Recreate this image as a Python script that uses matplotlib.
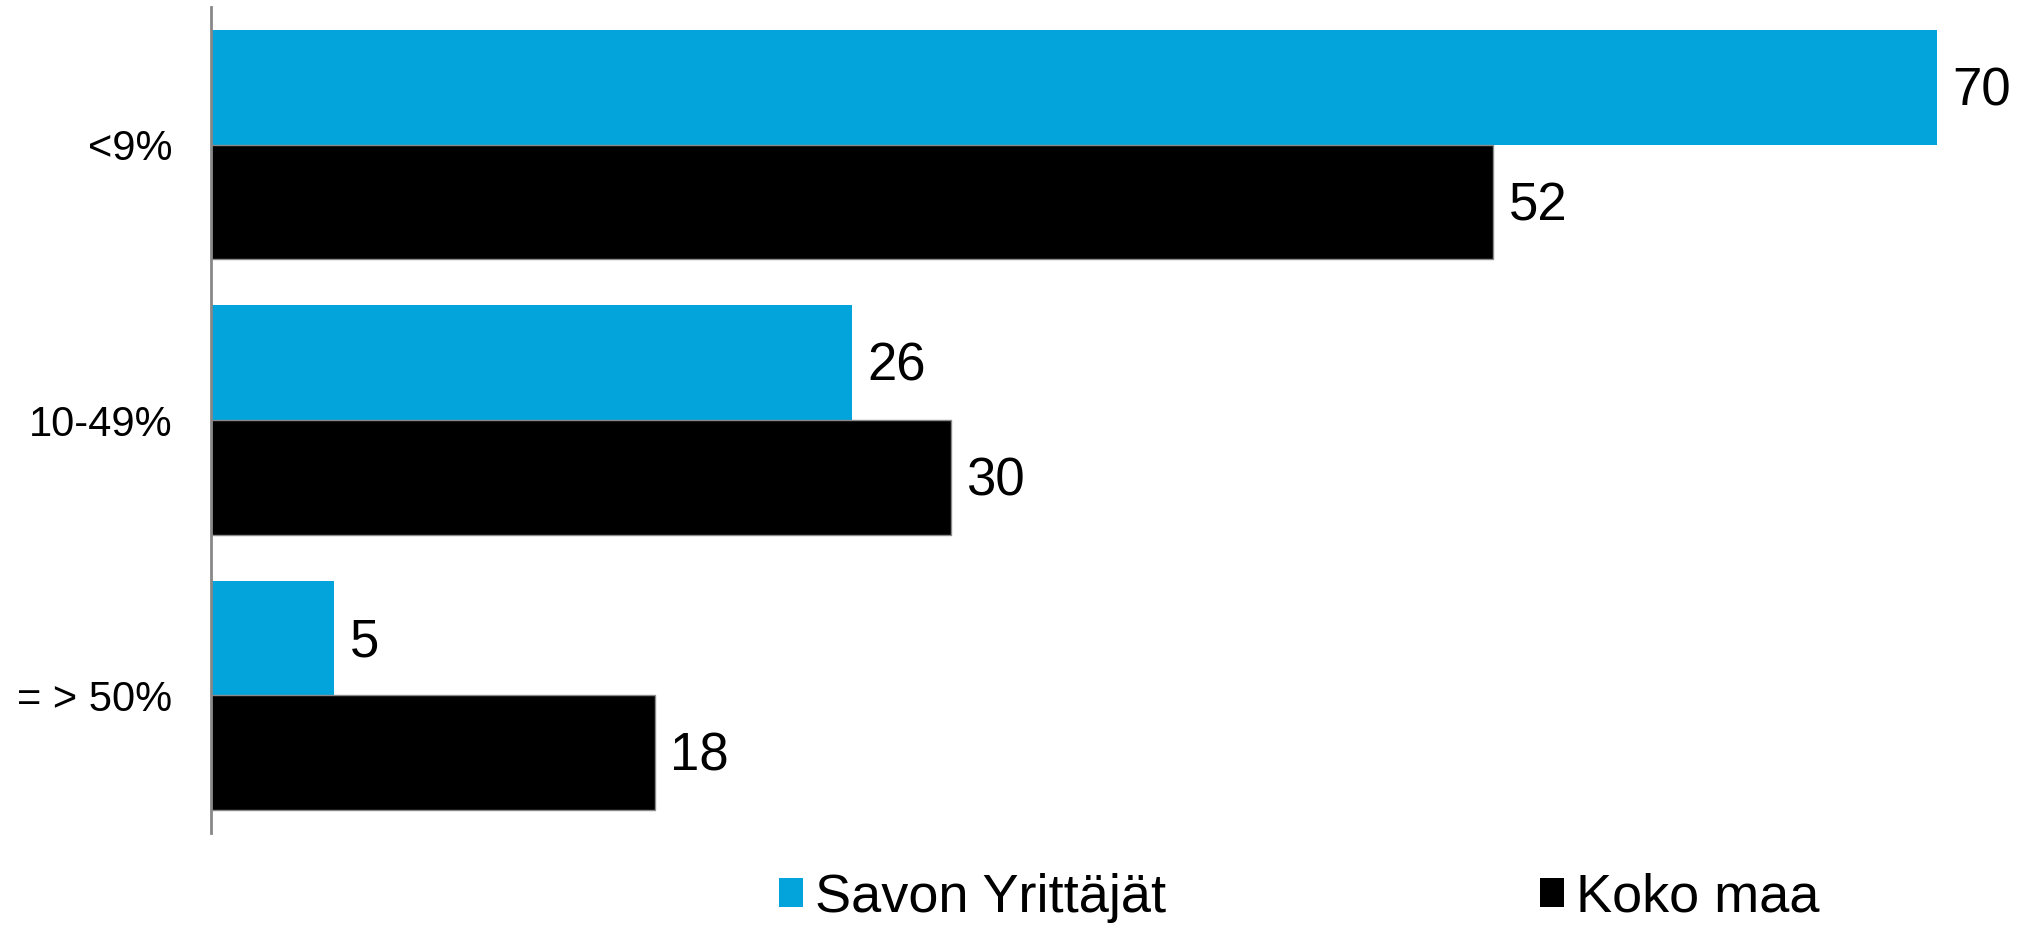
import numpy as np
import matplotlib
matplotlib.use("Agg")
import matplotlib.pyplot as plt
from matplotlib.patches import Patch

plt.rcParams['font.family'] = ['Liberation Sans', 'DejaVu Sans']

# data
categories = ['<9%', '10-49%', '= > 50%']
savon = [70, 26, 5]
koko_maa = [52, 30, 18]
series_names = ['Savon Yrittäjät', 'Koko maa']

blue = '#02A4DB'
black = '#000000'

fig = plt.figure(figsize=(20.21, 9.26), dpi=100)
ax = fig.add_axes([211 / 2021, 93 / 926, 1810 / 2021, 826 / 926])

y = np.arange(len(categories))
h = 0.417
bars1 = ax.barh(y - h / 2, savon, height=h, color=blue)
bars2 = ax.barh(y + h / 2, koko_maa, height=h, color=black,
                edgecolor='#8a8a8a', linewidth=1)

for bars, vals in [(bars1, savon), (bars2, koko_maa)]:
    for b, v in zip(bars, vals):
        ax.annotate(str(v), (b.get_width(), b.get_y() + b.get_height() / 2),
                    xytext=(11, -3), textcoords='offset points',
                    va='center', ha='left', fontsize=38)

ax.set_xlim(0, 73.4)
ax.set_ylim(2.5, -0.5)
ax.set_yticks(y)
ax.set_yticklabels(categories, fontsize=30)
ax.tick_params(axis='y', length=0, pad=28)
ax.set_xticks([])
for s in ['top', 'right', 'bottom']:
    ax.spines[s].set_visible(False)
ax.spines['left'].set_color('#888888')
ax.spines['left'].set_linewidth(2)

# legend: two separate entries
leg_y = 1 - 898 / 926
for name, col, x0 in [(series_names[0], blue, 779), (series_names[1], black, 1540)]:
    fig.legend(handles=[Patch(facecolor=col, edgecolor='none')], labels=[name],
               loc='center left', bbox_to_anchor=(x0 / 2021, leg_y),
               frameon=False, fontsize=39, borderpad=0, borderaxespad=0,
               handlelength=0.44, handleheight=0.44, handletextpad=0.22)

fig.savefig('out.png', dpi=100)
